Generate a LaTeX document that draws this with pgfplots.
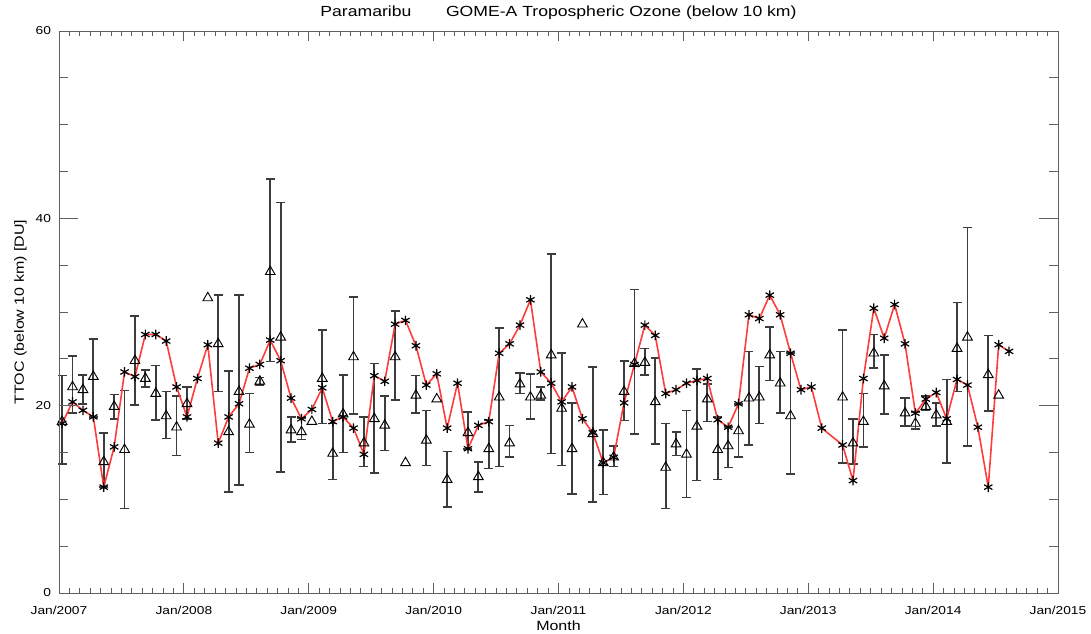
\documentclass[border=0pt]{standalone}
\usepackage{fontspec}
\setmainfont{Liberation Sans}[FakeStretch=1.2]
\usepackage{pgfplots}
\usepackage{pgfplotstable}
\pgfplotsset{compat=1.18}

% monthly TTOC (red line), month index from Jan/2007
\pgfplotstableread{
m v
0 18.1
1 20.4
2 19.5
3 18.8
4 11.3
5 15.6
6 23.6
7 23.1
8 27.6
9 27.6
10 26.9
11 22.0
12 18.8
13 22.9
14 26.5
15 16.0
16 18.8
17 20.2
18 24.0
19 24.4
20 27.0
21 24.8
22 20.8
23 18.6
24 19.6
25 21.9
26 18.3
27 18.8
28 17.6
29 14.8
30 23.2
31 22.6
32 28.7
33 29.1
34 26.4
35 22.2
36 23.4
37 17.6
38 22.4
39 15.4
40 17.9
41 18.3
42 25.6
43 26.6
44 28.6
45 31.3
46 23.6
47 22.4
48 20.4
49 22.0
50 18.6
51 17.1
52 13.9
53 14.5
54 20.3
55 24.4
56 28.6
57 27.5
58 21.3
59 21.7
60 22.4
61 22.7
62 22.9
63 18.5
64 17.7
65 20.2
66 29.7
67 29.3
68 31.8
69 29.7
70 25.6
71 21.7
72 22.0
73 17.6
75 15.8
76 12.0
77 22.9
78 30.4
79 27.2
80 30.8
81 26.6
82 19.2
83 20.7
84 21.4
85 18.6
86 22.8
87 22.2
88 17.7
89 11.3
90 26.5
91 25.8
}\gome

% triangles with spread
\pgfplotstableread{
m v lo hi
0 18.3 13.8 23.2
1 22.0 19.2 25.3
2 21.7 20.2 23.3
3 23.1 18.8 27.1
4 14.0 11.3 17.1
5 19.9 18.6 21.2
6 15.3 9.0 21.6
7 24.8 20.1 29.6
8 22.9 22.0 23.8
9 21.3 18.5 24.3
10 18.9 16.5 21.5
11 17.7 14.7 21.0
12 20.2 18.6 22.0
15 26.6 21.5 31.8
16 17.2 10.8 23.7
17 21.5 11.5 31.8
18 18.0 15.0 21.3
19 22.6 22.2 23.0
20 34.3 24.7 44.2
21 27.3 12.9 41.7
22 17.4 16.1 18.8
23 17.2 16.4 18.7
25 22.9 18.1 28.1
26 14.9 12.1 18.1
27 19.1 15.0 23.3
28 25.2 19.1 31.6
29 16.0 13.5 18.8
30 18.6 12.8 24.5
31 17.9 15.2 21.0
32 25.2 20.6 30.1
34 21.1 19.2 23.2
35 16.3 13.6 19.5
37 12.1 9.2 15.1
39 17.1 15.4 19.3
40 12.4 10.8 14.0
41 15.4 13.3 18.5
42 20.9 13.5 28.3
43 16.0 14.5 17.9
44 22.3 21.3 23.5
45 20.9 18.6 23.4
46 21.1 20.6 22.0
47 25.4 14.9 36.2
48 19.7 13.6 25.6
49 15.4 10.6 20.3
51 17.0 9.7 24.1
52 13.9 10.5 17.4
53 14.5 13.5 15.7
54 21.5 18.4 24.8
55 24.5 17.0 32.4
56 24.6 23.3 26.1
57 20.4 15.9 25.1
58 13.4 9.0 18.1
59 15.9 14.7 17.2
60 14.8 10.2 19.5
61 17.8 12.0 23.9
62 20.7 18.3 22.3
63 15.3 12.1 18.8
64 15.7 13.4 17.7
65 17.3 14.5 20.2
66 20.8 15.8 25.8
67 20.9 18.1 24.2
68 25.4 22.7 28.4
69 22.4 19.2 25.8
70 18.9 12.7 25.6
75 20.9 13.9 28.1
76 16.0 13.8 18.6
77 18.3 15.6 21.3
78 25.6 24.0 27.6
79 22.1 19.1 25.4
81 19.2 17.8 20.8
82 18.1 17.5 19.3
83 19.9 19.5 21.0
84 19.0 17.8 20.3
85 18.3 13.9 22.8
86 26.1 21.5 31.0
87 27.3 15.7 39.0
89 23.3 19.4 27.5
}\sonde

% triangles without spread
\pgfplotstableread{
m v
14 31.5
24 18.3
33 13.9
36 20.7
50 28.7
90 21.1
}\single

\definecolor{ttocred}{RGB}{255,60,60}
\definecolor{axgray}{RGB}{95,95,95}
\definecolor{bargray}{RGB}{60,60,60}

\begin{document}
\begin{tikzpicture}
\pgfplotsset{
  frame/.style={
    scale only axis, width=749.25pt, height=421.5pt,
    at={(0,0)}, anchor=south west,
    xmin=0, xmax=96, ymin=0, ymax=60,
    axis line style={axgray, line width=0.7pt},
    every tick/.style={axgray, line width=0.6pt},
    tick align=inside,
    /pgf/number format/assume math mode=true,
    tick label style={font=\fontsize{8.6}{9}\selectfont},
    label style={font=\fontsize{8}{9}\selectfont},
  }
}
\begin{axis}[frame,
  xtick={0,12,...,96},
  xticklabels={Jan/2007,Jan/2008,Jan/2009,Jan/2010,Jan/2011,Jan/2012,Jan/2013,Jan/2014,Jan/2015},
  minor x tick num=11,
  xtick pos=both,
  major tick length=7.5pt, minor tick length=3.75pt,
  xticklabel style={anchor=base, yshift=-16pt},
  ytick=\empty,
  xlabel={Month},
  every axis x label/.style={at={(axis description cs:0.5,0)}, anchor=base, yshift=-28pt},
  title={Paramaribu\hspace{26pt}GOME-A Tropospheric Ozone (below 10 km)},
  title style={font=\fontsize{11}{13}\selectfont, at={(axis description cs:0.5,1)}, anchor=base, yshift=4.5pt},
  clip=false,
]
  \addplot[only marks, black, mark=triangle, mark size=4.2pt, mark options={line width=0.7pt},
    error bars/.cd, y dir=both, y explicit,
    error bar style={bargray, line width=1.35pt},
    error mark options={bargray, line width=1.2pt, mark size=3.4pt, rotate=90}]
    table[x expr=\thisrow{m}+0.3, y=v,
      y error plus expr=\thisrow{hi}-\thisrow{v},
      y error minus expr=\thisrow{v}-\thisrow{lo}] {\sonde};
  \addplot[only marks, black, mark=triangle, mark size=4.2pt, mark options={line width=0.7pt}]
    table[x expr=\thisrow{m}+0.3, y=v] {\single};
  \addplot[ttocred, line width=1.2pt, mark=asterisk, mark size=3.6pt,
    mark options={black, line width=0.9pt}]
    table[x expr=\thisrow{m}+0.3, y=v] {\gome};
\end{axis}
\begin{axis}[frame,
  hide x axis,
  ytick={0,20,40,60},
  minor y tick num=3,
  ytick pos=both,
  major tick length=14pt, minor tick length=7pt,
  yticklabel style={xshift=-2.5pt},
  ylabel={TTOC (below 10 km) [DU]},
  every axis y label/.style={at={(axis description cs:0,0.5)}, rotate=90, anchor=center, yshift=29pt},
]
  \addplot[draw=none, forget plot] coordinates {(0,0)};
\end{axis}
\pgfresetboundingbox
\path (-44.25pt,-30.75pt) rectangle (774pt,444.75pt);
\end{tikzpicture}
\end{document}
